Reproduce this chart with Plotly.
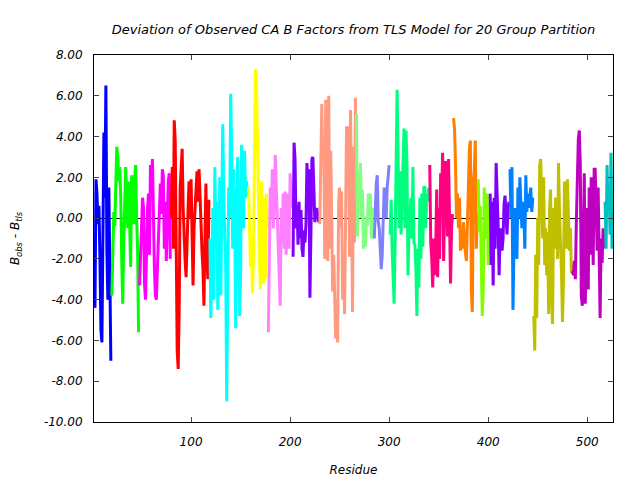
import plotly.graph_objects as go

# Deviation values per TLS group (residue-ordered)
group_starts = [2, 20, 48, 80, 119, 158, 178, 203, 230, 267, 285, 301, 341, 365, 390, 402, 422, 446, 485, 518]

g01 = [-3.3, -4.4, 1.9, 1.2, -0.3, 0.6, -2.0, -5.5, -6.1, -0.8, 4.2, 1.0, 6.5, -1.6, -4.0, 1.5, -4.5, -7.0]
g02 = [-3.8, -1.5, 0.3, -0.4, 2.2, 3.5, 3.0, 1.8, 2.5, 1.0, -2.0, -4.2, -1.2, 0.8, 2.5, 1.2, -0.5, 1.8,
       -1.2, -2.4, 2.1, 0.5, -0.3, 1.9, 2.6, 0.0, -1.5, -5.6]
g03 = [-3.3, -2.0, -0.8, 1.0, 0.5, -3.2, -4.0, -1.0, 0.4, 1.2, -1.8, 2.6, 1.0, 2.9, -1.2, -2.5, -3.8, -4.0,
       -2.5, -1.0, 1.1, 1.7, 0.2, 2.4, 2.1, -1.5, 0.8, -2.1, -0.3, 1.8, 2.2, -2.0]
g04 = [0.0, 2.5, -1.5, 4.8, 3.8, -1.8, -6.5, -7.4, -4.5, 1.5, 2.6, 3.4, 0.5, -1.5, -2.1, -2.9, -0.2, 0.5,
       1.8, 0.0, 1.9, -1.4, -3.3, -0.5, 0.6, 1.8, 2.3, 0.8, 2.4, 1.2, -0.5, -1.6, -2.5, -4.3, -1.0, 1.7,
       -2.0, -3.0, 0.9]
g05 = [-1.0, -4.9, -2.5, 0.5, -4.0, 2.5, -1.0, 0.8, -4.5, -2.0, 2.0, -3.8, 0.0, 4.6, 1.2, -1.0, -2.5, -9.0,
       -3.0, 1.5, 0.0, 6.1, 3.5, -1.5, 2.4, 0.5, -5.4, -2.0, 3.0, 1.0, -4.8, -3.0, 3.6, 2.0, -0.5, 3.3,
       1.0, 1.8, 1.1]
g06 = [1.5, -0.5, -2.4, -1.0, -3.7, -2.0, 3.8, 7.3, 6.8, 3.3, -0.5, -2.0, -3.5, 1.8, 0.0, -3.2, 1.0, -3.0,
       1.2, -0.5]
g07 = [-5.6, -2.0, 1.5, 0.0, 2.4, -0.5, 0.5, 3.1, 1.5, 0.0, -1.0, -3.4, -4.3, 0.5, -1.2, 1.2, -1.5, 1.3,
       -1.8, 1.2, -0.6, -1.5, 2.2, 1.0, 0.5]
g08 = [-1.9, 3.7, 2.9, -0.5, 0.6, -1.3, 0.8, -1.0, 0.4, -1.5, -1.9, -0.6, -1.2, -0.3, 2.7, 1.5, 2.4, -3.9,
       -0.8, 2.9, 3.0, 0.8, -0.2, 0.3, 0.5, 0.1, -0.2]
g09 = [-0.3, 3.1, 5.6, 2.8, 3.5, -2.0, 5.8, 3.5, -2.1, 6.0, -1.5, 3.3, -0.5, -3.6, -1.8, -4.1, -5.9, -4.0,
       -6.1, 0.8, 1.5, -0.5, 1.3, -4.0, -2.0, -4.7, 0.0, 4.5, 2.2, 4.5, -1.9, 5.3, 1.0, -4.6, 3.5, -1.2, 5.9]
g10 = [5.1, -0.9, 2.2, 1.0, 2.7, 0.0, 1.4, -1.5, -0.3, -1.4, 0.1, -0.4, 1.2, 0.2, 1.2, -1.0, 0.5, 0.3]
g11 = [-1.0, 0.8, 1.7, 2.1, -0.2, -0.5, -1.5, -2.5, -1.8, 0.2, 1.5, 0.5, 0.0, 1.5, 2.1, 2.6]
g12 = [-0.8, 0.9, -1.5, -3.0, -4.2, -1.2, 4.5, 6.3, 3.2, -0.5, 2.3, -0.8, 1.0, 3.4, 4.4, -0.5, 4.3, 2.7,
       -2.8, -0.7, 0.4, 1.0, -1.0, 2.5, -1.2, -1.3, -2.5, -4.8, -1.5, -3.4, 1.0, -2.0, 1.2, -1.4, 1.5,
       1.5, -0.5, 1.2, 0.8, 1.5]
g13 = [2.6, -1.2, -2.0, -3.4, -1.0, -2.8, -1.5, 1.4, -2.9, 0.5, -2.0, 2.2, 1.0, 3.2, -2.1, 0.3, 2.8, 1.5,
       -0.9, 2.9, 0.0, -3.2, -0.5, 0.2]
g14 = [4.9, 4.4, 2.6, 0.0, 1.2, -0.5, 1.0, -1.6, -0.9, -1.5, -0.2, -1.4, -1.7, -2.1, -0.5, 2.0, 3.4, 3.8,
       -3.6, -4.6, 1.8, 2.4, 3.8, -1.5, 0.2]
g15 = [1.9, -0.7, 0.6, -2.9, -4.8, -3.5, 1.5, 0.2, -1.0, 1.2, -2.3, -0.8]
g16 = [1.2, -2.3, 0.8, -3.3, 1.0, -1.5, 2.7, 1.6, -0.3, -2.8, -0.9, -0.5, -1.6, -1.0, 0.7, 1.1, 0.4, -0.8,
       0.5, 0.8]
g17 = [2.4, 0.0, 2.5, -4.5, -1.5, 0.5, -0.3, -2.0, 1.5, 0.0, 2.0, 0.5, -0.5, 0.8, 0.1, -1.5, 2.1, 0.3,
       1.2, 0.5, 0.9, 1.5, 0.3, 1.0]
g18 = [-4.8, -6.5, -1.8, -4.9, 0.0, -2.3, 2.6, 2.9, 1.0, -1.0, 2.0, -2.3, -0.5, -2.8, -0.7, -4.7, 0.5, 1.4,
       -4.0, -5.2, 0.5, -1.5, 1.0, 0.8, -2.0, 2.7, 0.2, -1.0, -2.7, -5.1, -3.0, 1.8, 0.5, -1.5, 1.9, 0.0,
       -1.6, -0.5, -2.7]
g19 = [-2.6, -2.8, -2.1, -3.0, -0.2, 2.0, 3.9, 4.3, 2.6, -3.8, -4.3, -1.2, 2.2, -4.2, -2.0, 0.5, -3.5, 1.5,
       -1.8, 2.0, 1.3, -2.3, 2.4, 2.4, 0.5, -1.6, 1.5, -2.8, -4.9, -1.0, -2.2, -0.5, -1.5]
g20 = [0.8, -1.5, 2.6, 0.3, 1.6, -0.8, 3.2, -1.5, -0.4]

groups = [g01, g02, g03, g04, g05, g06, g07, g08, g09, g10,
          g11, g12, g13, g14, g15, g16, g17, g18, g19, g20]

colors = ["#0000ff", "#00ff00", "#ff00ff", "#ff0000", "#00ffff", "#ffff00", "#ff80ff", "#8000ff",
          "#ff9980", "#80ff80", "#8080ff", "#00ff80", "#ff0080", "#ff8000", "#80ff00", "#8000ff",
          "#0080ff", "#c0c000", "#c000c0", "#00c0c0"]

x_ticks = [100, 200, 300, 400, 500]
y_ticks = [-10, -8, -6, -4, -2, 0, 2, 4, 6, 8]
y_labels = [f"{v:.2f}" for v in y_ticks]

FONT = "DejaVu Sans"

fig = go.Figure()
for start, vals, col in zip(group_starts, groups, colors):
    xs = list(range(start, start + len(vals)))
    fig.add_trace(go.Scatter(x=xs, y=vals, mode="lines",
                             line=dict(color=col, width=3),
                             showlegend=False, hoverinfo="skip"))

x_min = group_starts[0]
x_max = group_starts[-1] + len(groups[-1]) - 1

fig.update_layout(
    width=640, height=480,
    margin=dict(l=94, r=27, t=55, b=58),
    paper_bgcolor="white", plot_bgcolor="white",
    title=dict(text="Deviation of Observed CA B Factors from TLS Model for 20 Group Partition",
               x=(94 + 613) / 2 / 640, xanchor="center", y=1 - 29 / 480, yanchor="middle",
               font=dict(family=FONT, size=13, color="black", style="italic")),
    xaxis=dict(range=[x_min, x_max], tickvals=x_ticks, ticks="inside", ticklen=5,
               showline=True, linecolor="black", linewidth=1, mirror="ticks",
               showgrid=False, zeroline=False, ticklabelstandoff=9, automargin=False,
               tickfont=dict(family=FONT, size=12, color="black", style="italic"),
               title=dict(text="Residue", standoff=17,
                          font=dict(family=FONT, size=12, color="black", style="italic"))),
    yaxis=dict(range=[-10, 8], tickvals=y_ticks, ticktext=y_labels, ticks="inside", ticklen=5,
               showline=True, linecolor="black", linewidth=1, mirror="ticks",
               showgrid=False, zeroline=True, zerolinecolor="black", zerolinewidth=1,
               ticklabelstandoff=8, automargin=False,
               tickfont=dict(family=FONT, size=12, color="black", style="italic"),
               title=dict(text="B<sub>obs</sub> - B<sub>tls</sub>", standoff=21,
                          font=dict(family=FONT, size=12, color="black", style="italic"))),
)

fig.write_html("out.html")
